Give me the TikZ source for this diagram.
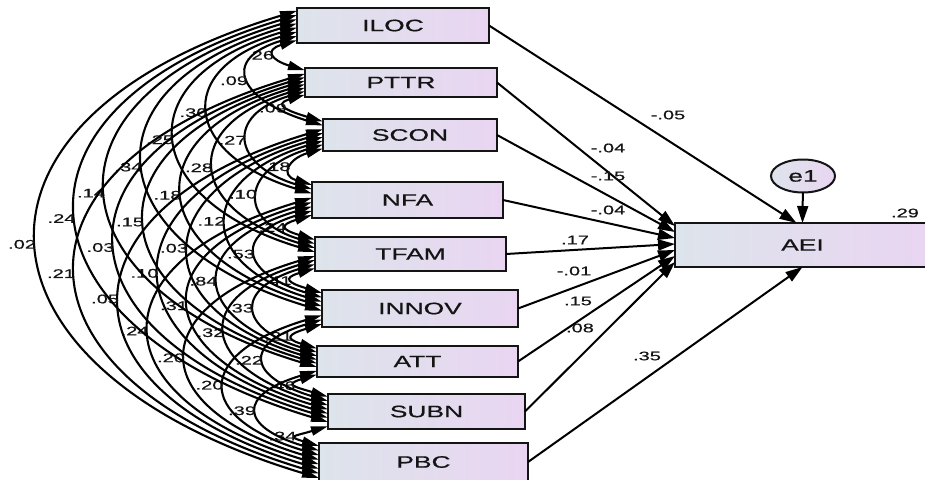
\documentclass[tikz,border=0pt]{standalone}
\usepackage{fontspec}
\setmainfont{Liberation Sans}[FakeStretch=1.6,FakeBold=0.6]
\usetikzlibrary{arrows.meta,calc,shapes.geometric}

\definecolor{boxl}{RGB}{221,228,235}
\definecolor{boxr}{RGB}{233,213,242}
\definecolor{ink}{RGB}{20,20,20}

\tikzset{
  var/.style={draw=ink, line width=2pt, left color=boxl, right color=boxr,
    inner sep=0pt, outer sep=0pt, text=ink, font=\fontsize{16.5}{19}\selectfont},
  err/.style={var, ellipse, minimum width=64pt, minimum height=33pt},
  reg/.style={line width=2pt, -{Triangle[length=17pt,width=11pt]}},
  cov/.style={line width=2.1pt,
    {Triangle[length=17pt,width=9pt]}-{Triangle[length=17pt,width=9pt]}},
  num/.style={text=ink, font=\fontsize{12.5}{14}\selectfont, inner sep=1pt},
}

\begin{document}
\begin{tikzpicture}[x=1pt,y=-1pt]
\useasboundingbox (0,0) rectangle (925,479);
\clip (0,0) rectangle (925,479);

% observed variables
\node[var, minimum width=192pt, minimum height=35pt] (iloc) at (393,25.5) {ILOC};
\node[var, minimum width=192pt, minimum height=29pt] (pttr) at (401,82.5) {PTTR};
\node[var, minimum width=174pt, minimum height=32pt] (scon) at (410,135) {SCON};
\node[var, minimum width=191pt, minimum height=36pt] (nfa) at (407.5,200) {NFA};
\node[var, minimum width=191pt, minimum height=34pt] (tfam) at (410.5,254) {TFAM};
\node[var, minimum width=196pt, minimum height=37pt] (innov) at (420,308.5) {INNOV};
\node[var, minimum width=201pt, minimum height=31pt] (att) at (417.5,361.5) {ATT};
\node[var, minimum width=197pt, minimum height=35pt] (subn) at (426.5,411.5) {SUBN};
\node[var, minimum width=209pt, minimum height=38pt] (pbc) at (423.5,462) {PBC};

% outcome and error
\node[var, minimum width=255pt, minimum height=44pt] (aei) at (802.5,245) {AEI};
\node[err] (e1) at (803,176) {e1};
\node[num] (r2) at (905,213) {.29};

% covariances
\foreach \a/\b/\d/\v in {
  iloc/pttr/1/.26, pttr/scon/1/.09, scon/nfa/1/.18, nfa/tfam/1/.24,
  tfam/innov/1/.41, innov/att/1/.21, att/subn/1/.46, subn/pbc/1/.34,
  iloc/scon/2/.09, pttr/nfa/2/.27, scon/tfam/2/.10, nfa/innov/2/.53,
  tfam/att/2/.33, innov/subn/2/.22, att/pbc/2/.39,
  iloc/nfa/3/.30, pttr/tfam/3/.28, scon/innov/3/.12, nfa/att/3/.84,
  tfam/subn/3/.32, innov/pbc/3/.20,
  iloc/tfam/4/.25, pttr/innov/4/.18, scon/att/4/.03, nfa/subn/4/.31,
  tfam/pbc/4/.20,
  iloc/innov/5/.34, pttr/att/5/.15, scon/subn/5/.10, nfa/pbc/5/.24,
  iloc/att/6/.14, pttr/subn/6/.03, scon/pbc/6/.05,
  iloc/subn/7/.24, pttr/pbc/7/.21,
  iloc/pbc/8/.02}{
  \pgfmathsetmacro\fa{1.04-0.12*\d}
  \pgfmathsetmacro\ctl{(35*\d-10)/0.75}
  \pgfmathsetmacro\tlt{0.3*\ctl}
  \draw[cov] ($(\a.north west)!\fa!(\a.south west)$)
    .. controls +(-\ctl,\tlt) and +(-\ctl,-\tlt) .. ($(\b.south west)!\fa!(\b.north west)$)
    node[num, pos=0.5, anchor=east] {\v};
}

% regression paths
\draw[reg] (iloc.east) -- ([xshift=-6pt]aei.north);
\draw[reg] (pttr.east) -- ([yshift=19pt]aei.west);
\draw[reg] (scon.east) -- ([yshift=13pt]aei.west);
\draw[reg] (nfa.east) -- ([yshift=7pt]aei.west);
\draw[reg] (tfam.east) -- ([yshift=1pt]aei.west);
\draw[reg] (innov.east) -- ([yshift=-5pt]aei.west);
\draw[reg] (att.east) -- ([yshift=-11pt]aei.west);
\draw[reg] (subn.east) -- ([yshift=-17pt]aei.west);
\draw[reg] (pbc.east) -- (aei.south);
\draw[reg] (e1) -- (aei.north);

\node[num] (w1) at (668,115) {-.05};
\node[num] (w2) at (608,148) {-.04};
\node[num] (w3) at (608,176) {-.15};
\node[num] (w4) at (608,210) {-.04};
\node[num] (w5) at (575,240) {.17};
\node[num] (w6) at (574,271) {-.01};
\node[num] (w7) at (578,301) {.15};
\node[num] (w8) at (580,328) {.08};
\node[num] (w9) at (647,356) {.35};
\end{tikzpicture}
\end{document}
